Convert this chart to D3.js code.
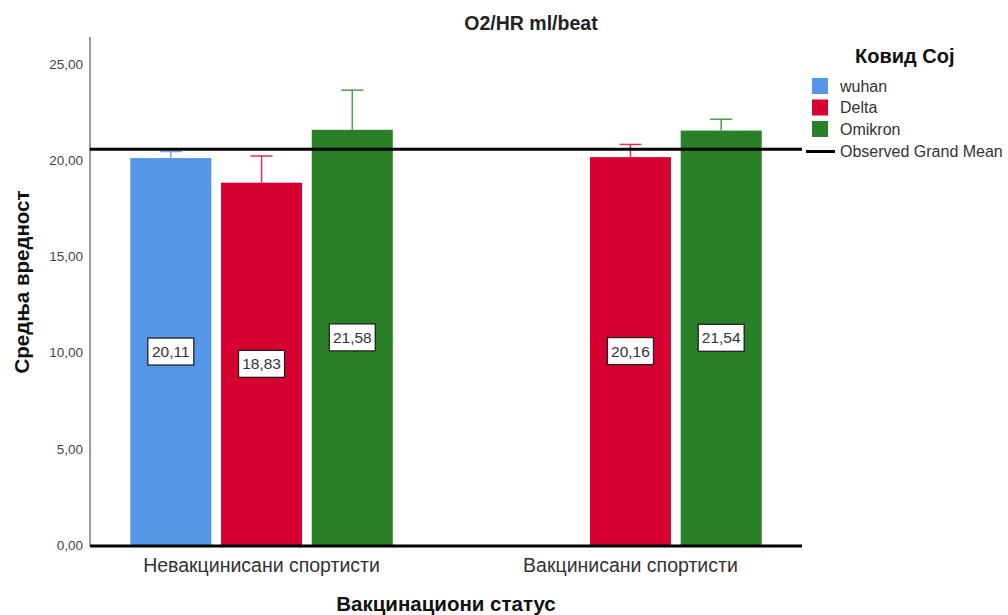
<!DOCTYPE html>
<html><head><meta charset="utf-8">
<script src="https://cdn.jsdelivr.net/npm/d3@7"></script>
<style>body{margin:0;background:#fff}svg{display:block}text{font-family:Arial,"Liberation Sans",sans-serif}</style>
</head><body>
<svg id="c" width="1008" height="615"></svg>
<script>
const groups = ["Невакцинисани спортисти", "Вакцинисани спортисти"];
const series = ["wuhan", "Delta", "Omikron"];
const colors = ["#5596E6", "#D5002F", "#2A8028"];
const meansUnvacc = [20.11, 18.83, 21.58];
const meansVacc = [null, 20.16, 21.54];
const errTopUnvacc = [20.45, 20.22, 23.64];
const errTopVacc = [null, 20.82, 22.13];
const grandMean = 20.57;
const yTicks = [0, 5, 10, 15, 20, 25];
const title = "O2/HR ml/beat";
const yTitle = "Средња вредност";
const xTitle = "Вакцинациони статус";
const legendTitle = "Ковид Соj";
const meanLabel = "Observed Grand Mean";

const rows = [];
[meansUnvacc, meansVacc].forEach((arr, gi) => {
  const errs = gi === 0 ? errTopUnvacc : errTopVacc;
  arr.forEach((v, si) => { if (v != null) rows.push({g: groups[gi], s: series[si], si, v, e: errs[si]}); });
});

const svg = d3.select("#c");
const x0 = d3.scalePoint().domain(groups).range([90, 802]).padding(0.465);
const x1 = d3.scaleBand().domain(series).range([-131.25, 131.25]).paddingInner(0.107).paddingOuter(0);
const y = d3.scaleLinear().domain([0, 25]).range([545, 64]);
const fmt = v => d3.format(".2f")(v).replace(".", ",");
const cx = d => x0(d.g) + x1(d.s) + x1.bandwidth() / 2;

// y axis
const ya = svg.append("g").attr("transform", "translate(90,0)")
  .call(d3.axisLeft(y).tickValues(yTicks).tickSize(0).tickPadding(7).tickFormat(fmt));
ya.select(".domain").remove();
ya.selectAll("text").attr("font-size", 13.5).attr("fill", "#444").attr("font-family", "Arial, 'Liberation Sans', sans-serif");
svg.append("line").attr("x1", 90).attr("x2", 90).attr("y1", 37).attr("y2", 546).attr("stroke", "#999").attr("stroke-width", 2);

// bars
svg.append("g").selectAll("rect").data(rows).join("rect")
  .attr("x", d => x0(d.g) + x1(d.s)).attr("width", x1.bandwidth())
  .attr("y", d => y(d.v)).attr("height", d => y(0) - y(d.v))
  .attr("fill", d => colors[d.si]);

// error bars
const eb = svg.append("g").selectAll("g").data(rows).join("g");
eb.append("line").attr("x1", cx).attr("x2", cx)
  .attr("y1", d => y(d.v)).attr("y2", d => y(d.e)).attr("stroke", d => colors[d.si]).attr("stroke-width", 1.5).attr("opacity", 0.8);
eb.append("line").attr("x1", d => cx(d) - 11).attr("x2", d => cx(d) + 11)
  .attr("y1", d => y(d.e)).attr("y2", d => y(d.e)).attr("stroke", d => colors[d.si]).attr("stroke-width", 1.5).attr("opacity", 0.8);

// grand mean line
svg.append("line").attr("x1", 90).attr("x2", 802).attr("y1", y(grandMean)).attr("y2", y(grandMean)).attr("stroke", "#000").attr("stroke-width", 3);

// x axis
svg.append("line").attr("x1", 90).attr("x2", 802).attr("y1", 546).attr("y2", 546).attr("stroke", "#000").attr("stroke-width", 3);
svg.append("g").selectAll("text").data(groups).join("text")
  .attr("x", d => x0(d)).attr("y", 572).attr("text-anchor", "middle").attr("font-size", 19.5).attr("fill", "#333").text(d => d);

// value labels
const lb = svg.append("g").selectAll("g").data(rows).join("g")
  .attr("transform", d => `translate(${cx(d)},${y(d.v / 2)})`);
lb.append("rect").attr("x", -23).attr("y", -13.5).attr("width", 46).attr("height", 27).attr("fill", "#fff").attr("stroke", "#222").attr("stroke-width", 1.3);
lb.append("text").attr("text-anchor", "middle").attr("dy", "0.36em").attr("font-size", 15.5).attr("fill", "#333").text(d => fmt(d.v));

// titles
svg.append("text").attr("x", 531).attr("y", 30).attr("text-anchor", "middle").attr("font-size", 19.5).attr("font-weight", "bold").attr("fill", "#222").text(title);
svg.append("text").attr("transform", "translate(29,282) rotate(-90)").attr("text-anchor", "middle").attr("font-size", 20.5).attr("font-weight", "bold").attr("fill", "#111").text(yTitle);
svg.append("text").attr("x", 446).attr("y", 611).attr("text-anchor", "middle").attr("font-size", 20.5).attr("font-weight", "bold").attr("fill", "#111").text(xTitle);

// legend
svg.append("text").attr("x", 855).attr("y", 63).attr("font-size", 20).attr("font-weight", "bold").attr("fill", "#111").text(legendTitle);
const lg = svg.append("g").selectAll("g").data(series).join("g").attr("transform", (d, i) => `translate(812,${86 + i * 21.5})`);
lg.append("rect").attr("x", 0).attr("y", -8).attr("width", 16).attr("height", 16).attr("fill", (d, i) => colors[i]);
lg.append("text").attr("x", 28).attr("dy", "0.36em").attr("font-size", 16).attr("fill", "#333").text(d => d);
svg.append("line").attr("x1", 806).attr("x2", 835).attr("y1", 151.5).attr("y2", 151.5).attr("stroke", "#000").attr("stroke-width", 3);
svg.append("text").attr("x", 840).attr("y", 151.5).attr("dy", "0.36em").attr("font-size", 16).attr("fill", "#333").text(meanLabel);
</script>
</body></html>
